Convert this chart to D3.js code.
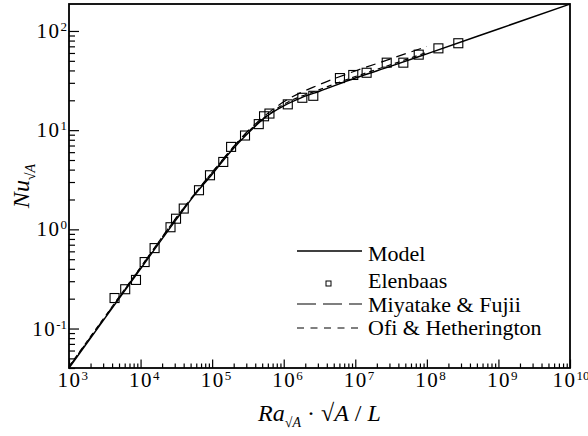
<!DOCTYPE html>
<html>
<head>
<meta charset="utf-8">
<script src="https://cdn.jsdelivr.net/npm/d3@7"></script>
<style>
  body { margin: 0; background: #fff; }
  text { font-family: "Liberation Serif", "Times New Roman", serif; fill: #000; }
</style>
</head>
<body>
<script>
// values
var elenbaasRa = [4330, 6100, 8630, 11400, 15700, 26200, 31300, 40100, 65500, 93300,
  143000, 184000, 288000, 448000, 531000, 632000, 1.14e6, 1.82e6, 2.59e6, 6.1e6,
  9.37e6, 1.44e7, 2.75e7, 4.69e7, 7.7e7, 1.45e8, 2.75e8];
var elenbaasNu = [0.203, 0.249, 0.309, 0.468, 0.647, 1.05, 1.28, 1.62, 2.48, 3.51,
  4.78, 6.78, 8.83, 11.5, 13.8, 14.7, 18.2, 21.2, 22.2, 33.5,
  36, 37.9, 47.9, 47.9, 57.7, 66.8, 75.2];

var modelRa = [1e3, 3.16e3, 1e4, 3.16e4, 5.62e4, 1e5, 1.78e5, 3.16e5, 5.62e5, 1e6,
  1.78e6, 3.16e6, 1e7, 3.16e7, 1e8, 1e9, 1e10];
var modelNu = [0.04, 0.1265, 0.40, 1.26, 2.2, 3.6, 6.0, 9.3, 13.6, 17.6,
  21.3, 24.7, 33.5, 44.2, 58.8, 104.7, 186.6];

var miyatakeRa = [1e3, 1e4, 3.16e4, 1e5, 3.16e5, 1e6, 3.16e6, 1e7, 3.16e7, 1e8];
var miyatakeNu = [0.041, 0.412, 1.31, 3.75, 9.8, 19.3, 28.8, 39.5, 52.5, 69.8];

var ofiRa = [1e3, 1e4, 3.16e4, 1e5, 3.16e5, 1e6, 3.16e6, 1e7, 3.16e7, 1e8];
var ofiNu = [0.0415, 0.415, 1.31, 3.75, 9.6, 18.2, 25.6, 34.7, 45.8, 60.8];

var xDecades = [3, 4, 5, 6, 7, 8, 9, 10];
var yDecades = [-1, 0, 1, 2];
var legendNames = ["Model", "Elenbaas", "Miyatake & Fujii", "Ofi & Hetherington"];

var plotLeft = 69, plotRight = 570, plotTop = 4, plotBottom = 368;

var svg = d3
  .select("body")
  .append("svg")
  .attr("width", 588)
  .attr("height", 436);

svg.append("rect").attr("width", 588).attr("height", 436).attr("fill", "#fff");

var x = d3.scaleLog().domain([1e3, 1e10]).range([plotLeft, plotRight]);
var y = d3.scaleLog().domain([0.04, 187]).range([plotBottom, plotTop]);

var plot = svg.append("g");

function series(ra, nu) {
  return ra.map(function(r, i) { return [r, nu[i]]; });
}

var line = d3.line()
  .x(function(d) { return x(d[0]); })
  .y(function(d) { return y(d[1]); })
  .curve(d3.curveMonotoneX);

plot.append("path")
  .datum(series(ofiRa, ofiNu))
  .attr("d", line)
  .attr("fill", "none")
  .attr("stroke", "#000")
  .attr("stroke-width", 1.2)
  .attr("stroke-dasharray", "5,4");

plot.append("path")
  .datum(series(miyatakeRa, miyatakeNu))
  .attr("d", line)
  .attr("fill", "none")
  .attr("stroke", "#000")
  .attr("stroke-width", 1.2)
  .attr("stroke-dasharray", "10,6");

plot.append("path")
  .datum(series(modelRa, modelNu))
  .attr("d", line)
  .attr("fill", "none")
  .attr("stroke", "#000")
  .attr("stroke-width", 1.5);

plot.selectAll("rect.pt")
  .data(series(elenbaasRa, elenbaasNu))
  .enter()
  .append("rect")
  .attr("class", "pt")
  .attr("x", function(d) { return x(d[0]) - 4.5; })
  .attr("y", function(d) { return y(d[1]) - 4.5; })
  .attr("width", 9)
  .attr("height", 9)
  .attr("fill", "none")
  .attr("stroke", "#000")
  .attr("stroke-width", 1.1);

function isDecade(v) {
  var l = Math.log10(v);
  return Math.abs(l - Math.round(l)) < 1e-9;
}

// axes: ticks point into the plot
var xAxis = d3.axisTop(x)
  .tickValues(d3.range(3, 10).flatMap(function(e) {
    return d3.range(1, 10).map(function(m) { return m * Math.pow(10, e); });
  }).concat([1e10]))
  .tickSize(4.5)
  .tickFormat("");

var gx = svg.append("g").attr("transform", "translate(0," + plotBottom + ")").call(xAxis);
gx.selectAll(".tick line")
  .attr("y2", function(d) { return isDecade(d) ? -8.5 : -4.5; })
  .attr("stroke-width", 1.2);
gx.select(".domain").remove();

var yAxis = d3.axisRight(y)
  .tickValues(d3.range(-2, 3).flatMap(function(e) {
    return d3.range(1, 10).map(function(m) { return m * Math.pow(10, e); });
  }).filter(function(v) { return v >= 0.04 && v <= 187; }))
  .tickSize(6)
  .tickFormat("");

var gy = svg.append("g").attr("transform", "translate(" + plotLeft + ",0)").call(yAxis);
gy.selectAll(".tick line")
  .attr("x2", function(d) { return isDecade(d) ? 10 : 6; })
  .attr("stroke-width", 1.2);
gy.select(".domain").remove();

// frame
svg.append("rect")
  .attr("x", plotLeft)
  .attr("y", plotTop)
  .attr("width", plotRight - plotLeft)
  .attr("height", plotBottom - plotTop)
  .attr("fill", "none")
  .attr("stroke", "#000")
  .attr("stroke-width", 1.8);

// tick labels
var xl = svg.selectAll("text.xl")
  .data(xDecades)
  .enter()
  .append("text")
  .attr("class", "xl")
  .attr("x", function(d) { return x(Math.pow(10, d)) - 11.5 - (d === 10 ? 6 : 0); })
  .attr("y", 387)
  .attr("font-size", 21)
  .attr("letter-spacing", 1.5);
xl.append("tspan").text("10");
xl.append("tspan")
  .attr("dy", -7)
  .attr("font-size", 13)
  .attr("letter-spacing", 0)
  .text(function(d) { return d; });

var yl = svg.selectAll("text.yl")
  .data(yDecades)
  .enter()
  .append("text")
  .attr("class", "yl")
  .attr("x", 67)
  .attr("y", function(d) { return y(Math.pow(10, d)) + 7; })
  .attr("text-anchor", "end")
  .attr("font-size", 21)
  .attr("letter-spacing", 1.5);
yl.append("tspan").text("10");
yl.append("tspan")
  .attr("dy", -7)
  .attr("font-size", 13)
  .attr("letter-spacing", 0)
  .text(function(d) { return d; });

// axis titles
var xt = svg.append("text")
  .attr("x", (plotLeft + plotRight) / 2)
  .attr("y", 421)
  .attr("text-anchor", "middle")
  .attr("font-size", 24);
xt.append("tspan").attr("font-style", "italic").text("Ra");
xt.append("tspan").attr("dy", 6).attr("font-size", 14).text("\u221A");
xt.append("tspan").attr("font-size", 14).attr("font-style", "italic").text("A");
xt.append("tspan").attr("dy", -6).text("  \u00B7 \u221A");
xt.append("tspan").attr("font-style", "italic").text("A");
xt.append("tspan").text(" / ");
xt.append("tspan").attr("font-style", "italic").text("L");

var yt = svg.append("text")
  .attr("transform", "translate(29," + (plotTop + plotBottom) / 2 + ") rotate(-90)")
  .attr("text-anchor", "middle")
  .attr("font-size", 24);
yt.append("tspan").attr("font-style", "italic").text("Nu");
yt.append("tspan").attr("dy", 6).attr("font-size", 14).text("\u221A");
yt.append("tspan").attr("font-size", 14).attr("font-style", "italic").text("A");

// legend
var legendY = [251, 274, 304, 328];
var lg = svg.append("g");

lg.append("line")
  .attr("x1", 297).attr("x2", 362)
  .attr("y1", legendY[0]).attr("y2", legendY[0])
  .attr("stroke", "#000").attr("stroke-width", 1.5);

lg.append("rect")
  .attr("x", 326).attr("y", 281)
  .attr("width", 5).attr("height", 5)
  .attr("fill", "none").attr("stroke", "#000").attr("stroke-width", 1);

lg.append("line")
  .attr("x1", 297).attr("x2", 362)
  .attr("y1", legendY[2]).attr("y2", legendY[2])
  .attr("stroke", "#000").attr("stroke-width", 1.2)
  .attr("stroke-dasharray", "19,7");

lg.append("line")
  .attr("x1", 297).attr("x2", 362)
  .attr("y1", legendY[3]).attr("y2", legendY[3])
  .attr("stroke", "#000").attr("stroke-width", 1.2)
  .attr("stroke-dasharray", "7,6.5");

lg.selectAll("text")
  .data(legendNames)
  .enter()
  .append("text")
  .attr("x", 368)
  .attr("y", function(d, i) { return [261, 288, 312, 335][i]; })
  .attr("font-size", 22)
  .text(function(d) { return d; });
</script>
</body>
</html>
